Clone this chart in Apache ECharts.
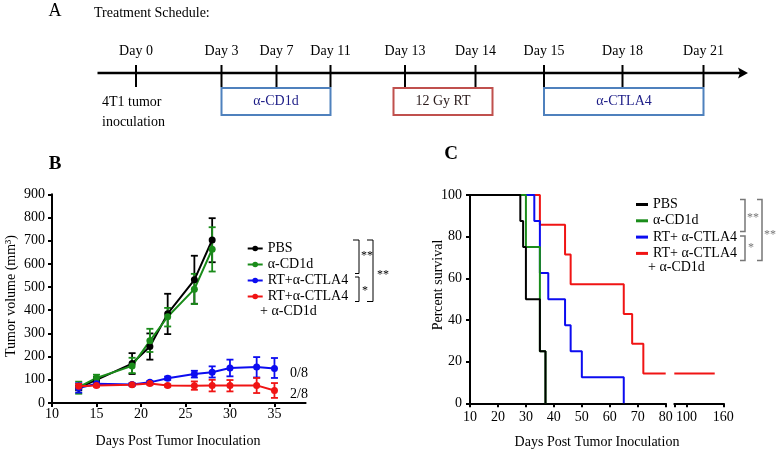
<!DOCTYPE html>
<html><head><meta charset="utf-8">
<script src="https://cdn.jsdelivr.net/npm/echarts@6/dist/echarts.min.js"></script>
<style>html,body{margin:0;padding:0;background:#fff}#c{width:777px;height:450px}</style>
</head><body><div id="c"></div>
<script>
// ---------- Panel A (schedule) ----------
const scheduleDays = ["Day 0","Day 3","Day 7","Day 11","Day 13","Day 14","Day 15","Day 18","Day 21"];
// ---------- Panel B (tumor volume) ----------
const bDaysShort = [13,15,19,21,23,26,28];
const bDaysLong = [13,15,19,21,23,26,28,30,33,35];
const pbsVol = [65,100,170,244,385,531,703];
const pbsLo  = [55,90,125,187,297,428,607];
const pbsHi  = [75,112,215,300,471,635,797];
const cd1dVol = [68,108,160,268,372,491,663];
const cd1dLo  = [40,95,129,220,330,427,567];
const cd1dHi  = [92,122,195,320,410,557,758];
const rtVol = [65,83,80,89,107,125,133,151,155,149];
const rtLo  = [45,75,75,83,100,110,110,115,110,108];
const rtHi  = [85,92,86,95,114,139,158,187,198,194];
const rtcdVol = [72,75,79,84,75,74,75,75,76,54];
const rtcdLo  = [62,70,74,78,70,57,50,50,43,22];
const rtcdHi  = [82,80,84,90,80,93,100,99,108,86];
const bYTicks = [0,100,200,300,400,500,600,700,800,900];
const bXTicks = [10,15,20,25,30,35];
// ---------- Panel C (survival) ----------
const pbsSurvX = [10,28,29,30,35,37];
const pbsSurvY = [100,87.5,75,50,25,0];
const cd1dSurvX = [10,30,35,37];
const cd1dSurvY = [100,75,25,0];
const rtSurvX = [10,33,35,38,44,46,50,65];
const rtSurvY = [100,87.5,62.5,50,37.5,25,12.5,0];
const rtcdSurvX = [10,35,44,46,65,68,72,80];
const rtcdSurvY = [100,85.7,71.4,57.1,42.9,28.6,14.3,14.3];
const rtcdTailX = [80,146];
const rtcdTailY = [14.3,14.3];
const cXTicks1 = [10,20,30,40,50,60,70,80];
const cXTicks2 = [100,160];
const cYTicks = [0,20,40,60,80,100];

const names = ["PBS","α-CD1d","RT+α-CTLA4","RT+α-CTLA4"];
const namesC = ["PBS","α-CD1d","RT+ α-CTLA4","RT+ α-CTLA4 "];
const colors = ["#000000","#1a8c1a","#0c0cf0","#f01414"];

const FF = '"Liberation Serif","DejaVu Serif",serif';
const zip = (a,b) => a.map((v,i)=>[v,b[i]]);
const zip3 = (a,b,c) => a.map((v,i)=>[v,b[i],c[i]]);

function errSeries(name, col, days, lo, hi){
  return {
    type:'custom', name: name+'_err', xAxisIndex:0, yAxisIndex:0,
    data: zip3(days, lo, hi), encode:{x:0, y:[1,2]}, silent:true,
    renderItem:function(params, api){
      const x = api.value(0);
      const p1 = api.coord([x, api.value(1)]);
      const p2 = api.coord([x, api.value(2)]);
      const w = 3.5;
      const st = {stroke:col, lineWidth:1.8};
      return {type:'group', children:[
        {type:'line', shape:{x1:p1[0],y1:p1[1],x2:p2[0],y2:p2[1]}, style:st},
        {type:'line', shape:{x1:p1[0]-w,y1:p1[1],x2:p1[0]+w,y2:p1[1]}, style:st},
        {type:'line', shape:{x1:p2[0]-w,y1:p2[1],x2:p2[0]+w,y2:p2[1]}, style:st}
      ]};
    }
  };
}
function volSeries(name, col, days, vals){
  return {type:'line', name:name, xAxisIndex:0, yAxisIndex:0, data: zip(days, vals),
    symbol:'circle', symbolSize:7, itemStyle:{color:col}, lineStyle:{color:col, width:2}};
}
function survSeries(name, col, xs, ys, gi){
  return {type:'line', name:name, xAxisIndex:gi, yAxisIndex:gi, data: zip(xs, ys), step:'end',
    showSymbol:false, symbol:'none', itemStyle:{color:col}, lineStyle:{color:col, width:2}};
}

const series = [
  errSeries(names[0], colors[0], bDaysShort, pbsLo, pbsHi),
  volSeries(names[0], colors[0], bDaysShort, pbsVol),
  errSeries(names[1], colors[1], bDaysShort, cd1dLo, cd1dHi),
  volSeries(names[1], colors[1], bDaysShort, cd1dVol),
  errSeries(names[2], colors[2], bDaysLong, rtLo, rtHi),
  volSeries(names[2], colors[2], bDaysLong, rtVol),
  errSeries(names[3]+' ', colors[3], bDaysLong, rtcdLo, rtcdHi),
  volSeries(names[3]+' ', colors[3], bDaysLong, rtcdVol),
  survSeries(namesC[3], colors[3], rtcdSurvX, rtcdSurvY, 1),
  survSeries(namesC[3]+'tail', colors[3], rtcdTailX, rtcdTailY, 2),
  survSeries(namesC[2], colors[2], rtSurvX, rtSurvY, 1),
  survSeries(namesC[1]+'C', colors[1], cd1dSurvX, cd1dSurvY, 1),
  survSeries(namesC[0]+'C', colors[0], pbsSurvX, pbsSurvY, 1)
];

const axisLine = {show:true, lineStyle:{color:'#000', width:2}};
const axisTick = {show:true, inside:false, length:4, lineStyle:{color:'#000', width:2}};
const lbl = {color:'#000', fontFamily:FF, fontSize:14};

// Schedule layout (schematic positions)
const schedX = [136,221.5,276.5,330.5,405,475.5,544,622.5,703.5];
const graphics = [];
function txt(x,y,s,opt){ opt=opt||{};
  graphics.push({type:'text', x:x, y:y, rotation:opt.rot||0, silent:true, style:{text:s,
    font:(opt.weight||'normal')+' '+(opt.size||14)+'px '+FF, fill:opt.color||'#000',
    align:opt.align||'left', verticalAlign:'middle'}});
}
function ln(x1,y1,x2,y2,c,w){ graphics.push({type:'line', silent:true, shape:{x1,y1,x2,y2}, style:{stroke:c||'#000', lineWidth:w||2}}); }
function bracket(pts,c,w){ graphics.push({type:'polyline', silent:true, shape:{points:pts}, style:{stroke:c, lineWidth:w, fill:null}}); }

txt(55,11,'A',{size:18,align:'center'});
txt(94,13,'Treatment Schedule:');
ln(97.5,73,741,73,'#000',2.5);
graphics.push({type:'polygon', silent:true, shape:{points:[[748,73],[738,67.5],[740,73],[738,78.5]]}, style:{fill:'#000'}});
scheduleDays.forEach((d,i)=>{ ln(schedX[i],65,schedX[i],87,'#000',2); txt(schedX[i],51,d,{align:'center'}); });
graphics.push({type:'rect', silent:true, shape:{x:221.5,y:88,width:109,height:27}, style:{fill:null, stroke:'#4f81bd', lineWidth:2}});
graphics.push({type:'rect', silent:true, shape:{x:393.5,y:88,width:99,height:27}, style:{fill:null, stroke:'#c0504d', lineWidth:2}});
graphics.push({type:'rect', silent:true, shape:{x:544,y:88,width:159.5,height:27}, style:{fill:null, stroke:'#4f81bd', lineWidth:2}});
txt(276,101.5,'α-CD1d',{align:'center',color:'#1c1c86'});
txt(443,101.5,'12 Gy RT',{align:'center',color:'#2a1a1a'});
txt(624,101.5,'α-CTLA4',{align:'center',color:'#1c1c86'});
txt(102,102,'4T1 tumor');
txt(102,122,'inoculation');

// Panel B texts
txt(55,164,'B',{size:19,align:'center',weight:'bold'});
txt(11,296,'Tumor volume (mm³)',{align:'center',rot:Math.PI/2});
txt(178,441,'Days Post Tumor Inoculation',{align:'center'});
txt(290,373,'0/8');
txt(290,394,'2/8');
txt(260,311,'+ α-CD1d');
bracket([[353,240],[359,240],[359,273.5],[355,273.5]],'#000',1);
bracket([[355,277],[359,277],[359,301.5],[355,301.5]],'#000',1);
bracket([[367,240],[373,240],[373,301.5],[367,301.5]],'#000',1);
txt(361,256,'**',{size:12});
txt(362,291,'*',{size:12});
txt(377,275,'**',{size:12});

// Panel C texts
txt(451,154,'C',{size:19,align:'center',weight:'bold'});
txt(438,285,'Percent survival',{align:'center',rot:Math.PI/2});
txt(597,442,'Days Post Tumor Inoculation',{align:'center'});
txt(648,267,'+ α-CD1d');
bracket([[740,199.5],[745,199.5],[745,231.5],[740,231.5]],'#777',1.5);
bracket([[740,236],[745,236],[745,260.5],[740,260.5]],'#777',1.5);
bracket([[757,199.5],[762,199.5],[762,260.5],[757,260.5]],'#777',1.5);
txt(747,218,'**',{size:12,color:'#777'});
txt(748,248,'*',{size:12,color:'#777'});
txt(764,235,'**',{size:12,color:'#777'});

const option = {
  animation:false,
  backgroundColor:'#fff',
  textStyle:{fontFamily:FF},
  grid:[
    {left:52, top:194.3, width:253.6, height:208.7},
    {left:470, top:195, width:195.7, height:208.3},
    {left:674.3, top:195, width:49, height:208.3}
  ],
  xAxis:[
    {type:'value', gridIndex:0, min:10, max:38.5, interval:5, axisLine, splitLine:{show:false},
     axisTick:Object.assign({}, axisTick, {customValues:bXTicks}),
     axisLabel:Object.assign({}, lbl, {margin:4, customValues:bXTicks})},
    {type:'value', gridIndex:1, min:10, max:80, interval:10, axisLine, splitLine:{show:false},
     axisTick:Object.assign({}, axisTick, {customValues:cXTicks1}),
     axisLabel:Object.assign({}, lbl, {margin:7, customValues:cXTicks1})},
    {type:'value', gridIndex:2, min:80, max:160, interval:20, axisLine, splitLine:{show:false},
     axisTick:Object.assign({}, axisTick, {customValues:[80].concat(cXTicks2)}),
     axisLabel:Object.assign({}, lbl, {margin:7, customValues:cXTicks2})}
  ],
  yAxis:[
    {type:'value', gridIndex:0, min:0, max:900, interval:100, axisLine, splitLine:{show:false},
     axisTick:Object.assign({}, axisTick, {customValues:bYTicks}),
     axisLabel:Object.assign({}, lbl, {margin:7, customValues:bYTicks})},
    {type:'value', gridIndex:1, min:0, max:100, interval:20, axisLine, splitLine:{show:false},
     axisTick:Object.assign({}, axisTick, {customValues:cYTicks}),
     axisLabel:Object.assign({}, lbl, {margin:8, customValues:cYTicks})},
    {type:'value', gridIndex:2, min:0, max:100, show:false}
  ],
  legend:[
    {orient:'vertical', left:241.7, top:236.5, itemWidth:15, itemHeight:7, itemGap:2, selectedMode:false,
     textStyle:{fontFamily:FF, fontSize:14, color:'#000', lineHeight:14},
     data:[names[0], names[1], names[2], names[3]+' ']},
    {orient:'vertical', left:631, top:192.5, itemWidth:12, itemHeight:3, itemGap:2.3, icon:'rect', selectedMode:false,
     textStyle:{fontFamily:FF, fontSize:14, color:'#000', lineHeight:14},
     data:[names[0], names[1], namesC[2], namesC[3]],
     formatter:function(n){ return n.trim(); }}
  ],
  graphic:graphics,
  series:series
};
const chart = echarts.init(document.getElementById('c'), null, {renderer:'canvas'});
chart.setOption(option);
</script></body></html>
